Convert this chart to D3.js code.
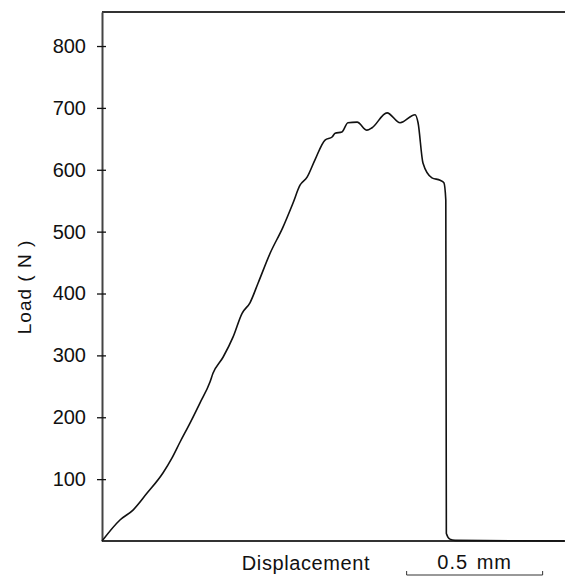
<!DOCTYPE html>
<html>
<head>
<meta charset="utf-8">
<script src="https://cdn.jsdelivr.net/npm/d3@7"></script>
<style>
  html, body { margin: 0; padding: 0; background: #fff; }
  svg text { font-family: "Liberation Sans", Arial, Helvetica, sans-serif; fill: #111; }
</style>
</head>
<body>
<div id="chart"></div>
<script>
// displacement (mm) and load (N)
const displacement = [0, 0.066, 0.114, 0.165, 0.224, 0.257, 0.287, 0.324, 0.360, 0.397,
  0.408, 0.445, 0.482, 0.515, 0.544, 0.574, 0.618, 0.665, 0.702, 0.728,
  0.754, 0.783, 0.820, 0.846, 0.857, 0.882, 0.904, 0.938, 0.974, 0.993,
  1.048, 1.096, 1.151, 1.162, 1.180, 1.213, 1.243, 1.257, 1.264, 1.266,
  1.279, 1.298, 1.70];
const load = [0, 34, 50, 77, 110, 134, 160, 191, 223, 257,
  271, 297, 330, 368, 385, 417, 465, 507, 546, 575,
  588, 616, 648, 653, 659, 661, 676, 677, 664, 668,
  692, 676, 689, 676, 611, 587, 583, 579, 551, 12,
  3, 1, 0];
const loadTicks = [100, 200, 300, 400, 500, 600, 700, 800];
const scaleBarMm = [1.12, 1.62];
const scaleBarLabel = '0.5 mm';

const width = 565, height = 577;
const svg = d3.select('#chart').append('svg')
  .attr('width', width)
  .attr('height', height);

const x = d3.scaleLinear().domain([0, 1.7]).range([102, 102 + 1.7 * 272]);
const y = d3.scaleLinear().domain([0, 855]).range([541, 12]);

// frame: top and bottom lines run to the right edge
svg.append('line')
  .attr('x1', x(0)).attr('x2', width)
  .attr('y1', y(855)).attr('y2', y(855))
  .attr('stroke', '#333').attr('stroke-width', 2);
svg.append('line')
  .attr('x1', x(0)).attr('x2', width)
  .attr('y1', y(0)).attr('y2', y(0))
  .attr('stroke', '#333').attr('stroke-width', 2);

// Y axis
const yAxis = svg.append('g')
  .attr('transform', `translate(${x(0)},0)`)
  .call(d3.axisLeft(y).tickValues(loadTicks).tickSize(5).tickPadding(11).tickSizeOuter(0));
yAxis.select('.domain').attr('stroke', '#444').attr('stroke-width', 2);
yAxis.selectAll('.tick line').attr('x1', 4).attr('stroke', '#111').attr('stroke-width', 1.3);
yAxis.selectAll('.tick text')
  .attr('font-size', '20px')
  .attr('font-family', '"Liberation Sans", Arial, sans-serif')
  .attr('fill', '#111');

svg.append('text')
  .attr('transform', `translate(31,287) rotate(-90)`)
  .attr('text-anchor', 'middle')
  .attr('font-size', '19px')
  .attr('letter-spacing', '1px')
  .text('Load ( N )');

// load trace
const pts = displacement.map((d, i) => [d, load[i]]);
svg.append('path')
  .datum(pts)
  .attr('fill', 'none')
  .attr('stroke', '#111')
  .attr('stroke-width', 1.6)
  .attr('stroke-linejoin', 'round')
  .attr('d', d3.line().x(d => x(d[0])).y(d => y(d[1])).curve(d3.curveMonotoneX));

// x label and scale bar
svg.append('text')
  .attr('x', 306).attr('y', 570)
  .attr('text-anchor', 'middle')
  .attr('font-size', '20px')
  .attr('letter-spacing', '0.6px')
  .text('Displacement');

const bx0 = x(scaleBarMm[0]), bx1 = x(scaleBarMm[1]);
svg.append('path')
  .attr('d', `M${bx0},571 V575 H${bx1} V571`)
  .attr('fill', 'none')
  .attr('stroke', '#333')
  .attr('stroke-width', 1);
svg.append('text')
  .attr('x', (bx0 + bx1) / 2).attr('y', 569)
  .attr('text-anchor', 'middle')
  .attr('font-size', '20px')
  .attr('letter-spacing', '1px')
  .attr('word-spacing', '2px')
  .text(scaleBarLabel);
</script>
</body>
</html>
